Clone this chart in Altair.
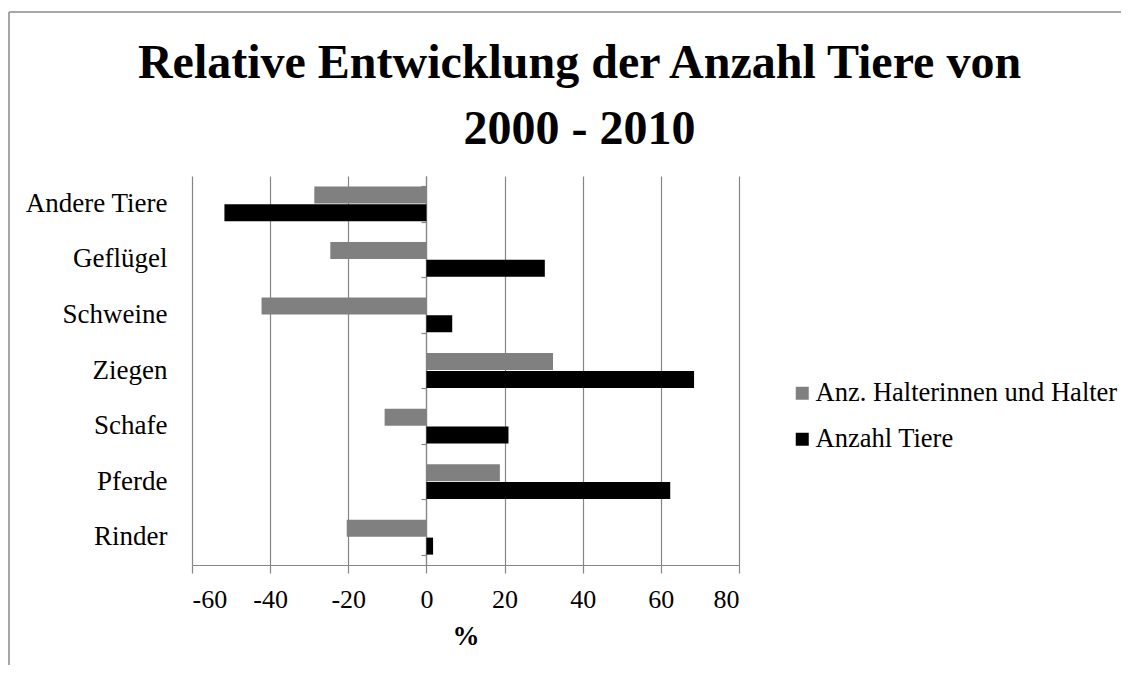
import altair as alt
import pandas as pd

categories = ["Rinder", "Pferde", "Schafe", "Ziegen", "Schweine", "Geflügel", "Andere Tiere"]
halter = [-20.4, 18.8, -10.7, 32.4, -42.2, -24.6, -28.7]
tiere = [1.7, 62.4, 21.0, 68.5, 6.6, 30.3, -51.7]
series = ["Anz. Halterinnen und Halter", "Anzahl Tiere"]
colors = ["#808080", "#000000"]
x_ticks = [-60, -40, -20, 0, 20, 40, 60, 80]

rows = []
for c, h, t in zip(categories, halter, tiere):
    rows.append({"Kategorie": c, "Serie": series[0], "Wert": h})
    rows.append({"Kategorie": c, "Serie": series[1], "Wert": t})
df = pd.DataFrame(rows)

order = list(reversed(categories))
FONT = "Liberation Serif"

yscale = alt.Scale(domain=order, paddingInner=0.36, paddingOuter=0.18)

bars = alt.Chart(df).mark_bar(size=17).encode(
    x=alt.X("Wert:Q",
            scale=alt.Scale(domain=[-60, 80], nice=False),
            axis=alt.Axis(values=x_ticks, title="%", grid=True, gridColor="#868686",
                          gridWidth=1.2, domainColor="#868686", domainWidth=1.2,
                          tickColor="#868686", tickWidth=1.2,
                          tickSize=8, labelFont=FONT, labelFontSize=26, labelColor="#000",
                          labelPadding=13, labelExpr="'' + datum.value",
                          titleFont=FONT, titleFontSize=27,
                          titleFontWeight="bold", titleColor="#000", titlePadding=11)),
    y=alt.Y("Kategorie:N", sort=order, scale=yscale,
            axis=alt.Axis(title=None, domain=False, ticks=False, labelFont=FONT,
                          labelFontSize=27, labelColor="#000", labelPadding=25,
                          labelLimit=300)),
    yOffset=alt.YOffset("Serie:N", sort=series),
    color=alt.Color("Serie:N", sort=series,
                    scale=alt.Scale(domain=series, range=colors),
                    legend=alt.Legend(title=None, orient="none", legendX=597, legendY=204,
                                      symbolType="square", symbolSize=169,
                                      symbolStrokeWidth=0, labelFont=FONT,
                                      labelFontSize=26.5, labelColor="#000",
                                      rowPadding=19, labelOffset=0, labelLimit=500)),
)

zero_axis = alt.Chart(df).mark_tick(opacity=0).encode(
    y=alt.Y("Kategorie:N", sort=order, scale=yscale,
            axis=alt.Axis(title=None, orient="left", offset=-234, labels=False,
                          domain=True, domainColor="#868686", domainWidth=1.2, ticks=True,
                          tickBand="extent", tickSize=5, tickColor="#868686", tickWidth=1.2)),
)

border = alt.Chart(pd.DataFrame({"k": [0]})).mark_rule(color="#8a8a8a", strokeWidth=1.5).encode(
    x=alt.value(-183), x2=alt.value(-183), y=alt.value(-164), y2=alt.value(499)
)
border_top = alt.Chart(pd.DataFrame({"k": [0]})).mark_rule(color="#8a8a8a", strokeWidth=1.5).encode(
    x=alt.value(-183), x2=alt.value(940), y=alt.value(-164), y2=alt.value(-164)
)

chart = alt.layer(bars, zero_axis, border, border_top).resolve_axis(y="independent").properties(
    width=547,
    height=389,
    autosize=alt.AutoSizeParams(type="none"),
    padding={"left": 184, "top": 168, "right": 382, "bottom": 100},
    title=alt.TitleParams(
        text=["Relative Entwicklung der Anzahl Tiere von", "2000 - 2010"],
        font=FONT, fontSize=48, fontWeight="bold", color="#000",
        anchor="middle", dx=114, offset=-143, lineHeight=66,
    ),
).configure_view(stroke=None)

chart.save("out.html", embed_options={"renderer": "svg", "actions": False})
